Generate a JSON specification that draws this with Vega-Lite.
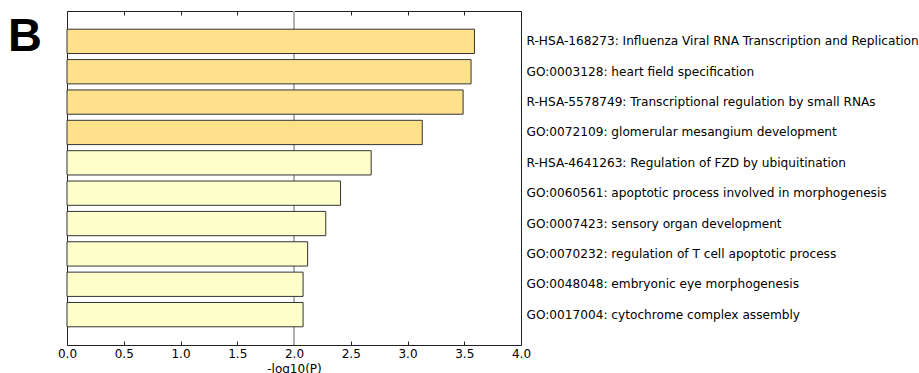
{
  "$schema": "https://vega.github.io/schema/vega-lite/v6.json",
  "autosize": {"type": "none"},
  "width": 454,
  "height": 334,
  "padding": {"left": 67, "top": 11, "right": 398, "bottom": 28},
  "background": "white",
  "config": {
    "view": {"stroke": "#222", "strokeWidth": 1},
    "axis": {"labelFont": "DejaVu Sans", "titleFont": "DejaVu Sans", "labelColor": "black", "titleColor": "black"}
  },
  "data": {
    "values": [
      {"term": "R-HSA-168273: Influenza Viral RNA Transcription and Replication", "logp": 3.59},
      {"term": "GO:0003128: heart field specification", "logp": 3.56},
      {"term": "R-HSA-5578749: Transcriptional regulation by small RNAs", "logp": 3.49},
      {"term": "GO:0072109: glomerular mesangium development", "logp": 3.13},
      {"term": "R-HSA-4641263: Regulation of FZD by ubiquitination", "logp": 2.68},
      {"term": "GO:0060561: apoptotic process involved in morphogenesis", "logp": 2.41},
      {"term": "GO:0007423: sensory organ development", "logp": 2.28},
      {"term": "GO:0070232: regulation of T cell apoptotic process", "logp": 2.12},
      {"term": "GO:0048048: embryonic eye morphogenesis", "logp": 2.08},
      {"term": "GO:0017004: cytochrome complex assembly", "logp": 2.08}
    ]
  },
  "layer": [
    {
      "mark": {"type": "rule", "color": "#b0b0b0", "strokeWidth": 1},
      "encoding": {
        "x": {
          "datum": 2,
          "type": "quantitative",
          "scale": {"domain": [0, 4], "nice": false, "zero": false},
          "axis": {
            "orient": "top",
            "values": [0, 0.5, 1, 1.5, 2, 2.5, 3, 3.5, 4],
            "labels": false,
            "domain": false,
            "tickSize": -4,
            "tickColor": "#222",
            "title": null,
            "grid": false
          }
        }
      }
    },
    {
      "mark": {"type": "bar", "stroke": "#333", "strokeWidth": 1},
      "encoding": {
        "y": {
          "field": "term",
          "type": "nominal",
          "sort": null,
          "scale": {"paddingInner": 0.2, "paddingOuter": 0.6},
          "axis": {
            "orient": "right",
            "title": null,
            "domain": false,
            "ticks": false,
            "labelAlign": "left",
            "labelPadding": 5,
            "labelFontSize": 12.15,
            "labelLimit": 0
          }
        },
        "x": {
          "field": "logp",
          "type": "quantitative",
          "scale": {"domain": [0, 4], "nice": false},
          "axis": {
            "orient": "bottom",
            "values": [0, 0.5, 1, 1.5, 2, 2.5, 3, 3.5, 4],
            "format": ".1f",
            "grid": false,
            "domain": false,
            "tickSize": -4,
            "tickColor": "#222",
            "labelFontSize": 12,
            "labelFlush": false,
            "labelPadding": 7,
            "title": "-log10(P)",
            "titleFontSize": 12,
            "titleFontWeight": "normal",
            "titlePadding": 4
          }
        },
        "fill": {
          "condition": {"test": "datum.logp > 3", "value": "#FFE18C"},
          "value": "#FFFFCC"
        }
      }
    },
    {
      "data": {"values": [{"panel": "B"}]},
      "mark": {
        "type": "text",
        "font": "Liberation Sans",
        "fontSize": 47,
        "fontWeight": "bold",
        "color": "black",
        "align": "center",
        "baseline": "middle",
        "dy": -4
      },
      "encoding": {
        "text": {"field": "panel"},
        "x": {"datum": -0.37, "type": "quantitative", "axis": null},
        "y": {"datum": "R-HSA-168273: Influenza Viral RNA Transcription and Replication", "type": "nominal", "axis": null}
      }
    }
  ],
  "resolve": {"axis": {"x": "independent", "y": "independent"}}
}
